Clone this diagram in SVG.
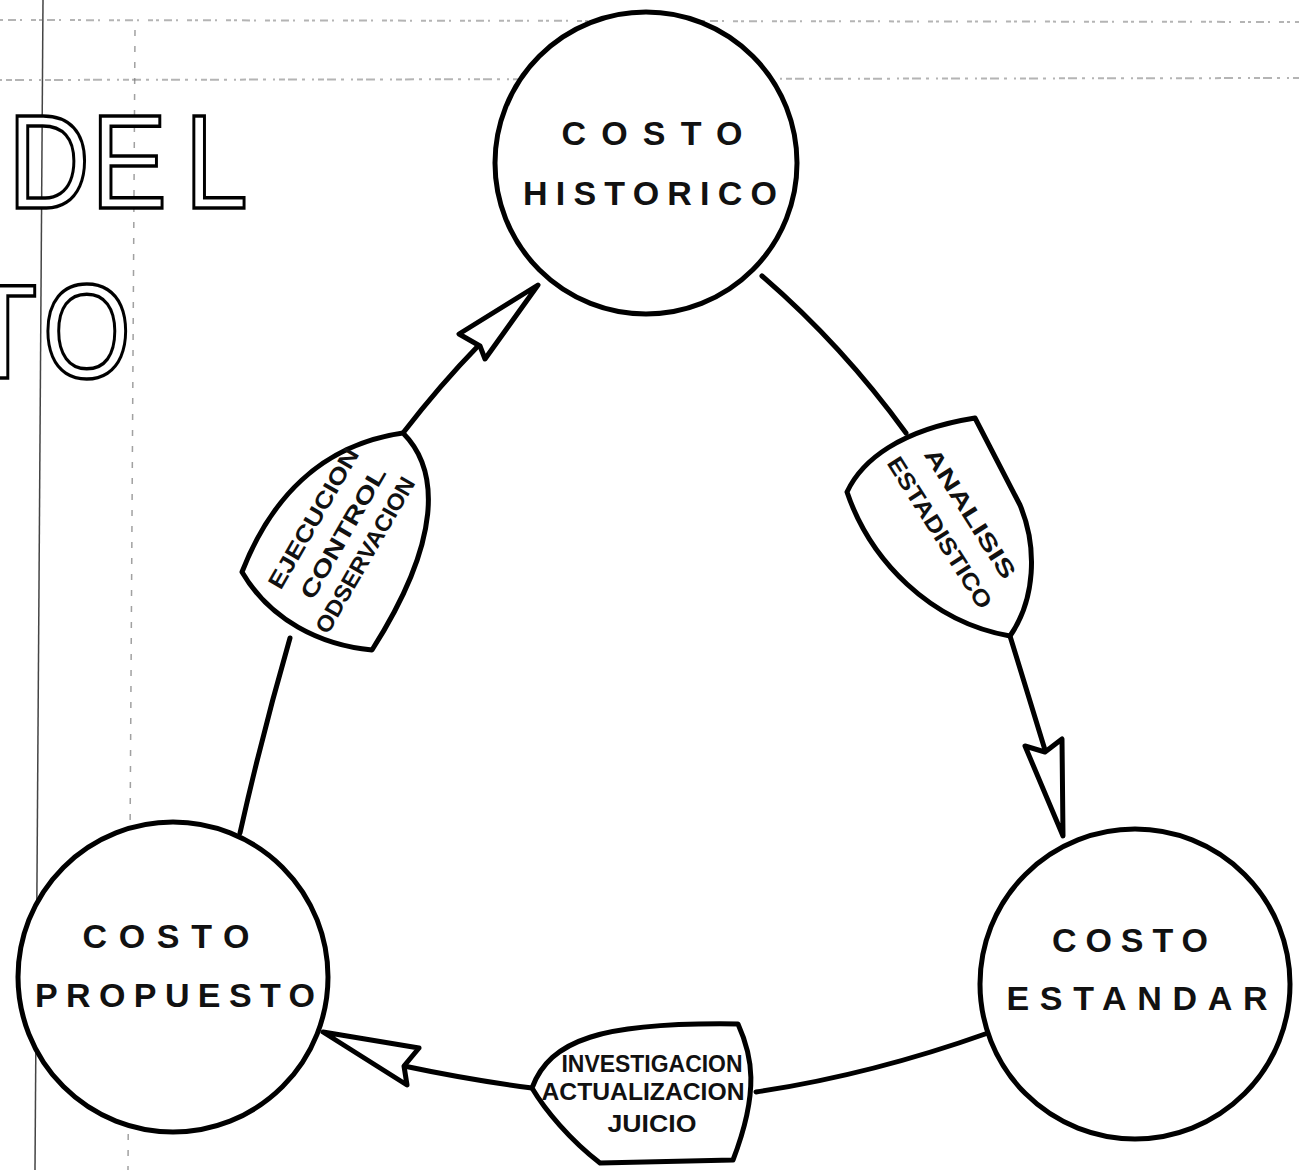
<svg xmlns="http://www.w3.org/2000/svg" width="1299" height="1170" viewBox="0 0 1299 1170">
<style>
.bg{fill:#fff}
.node{fill:#fff;stroke:#000;stroke-width:5}
.shield{fill:#fff;stroke:#000;stroke-width:5;stroke-linejoin:round}
.conn{fill:none;stroke:#000;stroke-width:5;stroke-linecap:round}
.head{fill:#fff;stroke:#000;stroke-width:5;stroke-linejoin:round}
.ct{font-family:"Liberation Sans",Arial,sans-serif;font-weight:bold;font-size:34px;fill:#111;text-anchor:middle}
.st{font-family:"Liberation Sans",Arial,sans-serif;font-weight:bold;font-size:23px;fill:#111;text-anchor:middle}
.big{font-family:"Liberation Sans",Arial,sans-serif;font-size:134px;fill:#fff;stroke:#000;stroke-width:3.5}
.scan{fill:none;stroke:#444;stroke-width:1.5}
.noise{fill:none;stroke:#777;stroke-width:2;opacity:0.55}
</style>
<rect class="bg" x="0" y="0" width="1299" height="1170"/>

<g id="scan-marks">
<path class="scan" d="M43,0 L35,1170"/>
<path class="scan" d="M135,30 L128,1170" stroke-dasharray="6 10" opacity="0.5"/>
<path class="noise" d="M0,20 L1299,22" stroke-dasharray="3 5 8 4 2 9 5 3"/>
<path class="noise" d="M0,80 L1299,78" stroke-dasharray="2 4 6 3 9 5 3 7"/>
</g>

<g id="title">
<text class="big" transform="translate(0,208) scale(0.85,1)"><tspan x="9">D</tspan><tspan x="107">E</tspan><tspan x="217">L</tspan></text>
<text class="big" transform="translate(0,378) scale(0.85,1)"><tspan x="-38">T</tspan><tspan x="50">O</tspan></text>
</g>

<g id="connectors">
<path class="conn" d="M762,276 Q842,345 906,433"/>
<path class="conn" d="M1010,636 L1045,750"/>
<polygon class="head" points="1025,746 1045,752 1062,739 1063,836"/>
<path class="conn" d="M988,1033 Q870,1075 756,1092"/>
<path class="conn" d="M532,1088 Q470,1080 404,1066"/>
<polygon class="head" points="323,1032 419,1048 404,1066 407,1085"/>
<path class="conn" d="M240,833 Q262,735 290,638"/>
<path class="conn" d="M403,433 Q440,385 479,345"/>
<polygon class="head" points="538,285 459,334 480,346 485,359"/>
</g>

<g id="costo-historico">
<circle class="node" cx="646" cy="163" r="151"/>
<text class="ct" x="652" y="145" textLength="181" lengthAdjust="spacing">COSTO</text>
<text class="ct" x="650" y="205" textLength="254" lengthAdjust="spacing">HISTORICO</text>
</g>

<g id="costo-estandar">
<circle class="node" cx="1135" cy="984" r="155"/>
<text class="ct" x="1130" y="952" textLength="156" lengthAdjust="spacing">COSTO</text>
<text class="ct" x="1137" y="1010" textLength="261" lengthAdjust="spacing">ESTANDAR</text>
</g>

<g id="costo-propuesto">
<circle class="node" cx="173" cy="977" r="155"/>
<text class="ct" x="166" y="948" textLength="167" lengthAdjust="spacing">COSTO</text>
<text class="ct" x="175" y="1007" textLength="280" lengthAdjust="spacing">PROPUESTO</text>
</g>

<g id="analisis-estadistico">
<path class="shield" d="M847,492 C862,460 900,430 975,418 L1020,505 C1038,548 1035,600 1010,636 C930,622 870,560 847,492 Z"/>
<g transform="translate(955,523) rotate(57.6)">
<text class="st" x="0" y="-10" textLength="150" lengthAdjust="spacingAndGlyphs">ANALISIS</text>
<text class="st" x="0" y="26" textLength="175" lengthAdjust="spacingAndGlyphs">ESTADISTICO</text>
</g>
</g>

<g id="ejecucion-control">
<path class="shield" d="M242,572 C270,500 320,445 403,433 C440,470 442,540 372,650 C320,645 270,620 242,572 Z"/>
<g transform="translate(343,533) rotate(-60)">
<text class="st" x="-2" y="-25" textLength="158" lengthAdjust="spacingAndGlyphs">EJECUCION</text>
<text class="st" x="0" y="8" textLength="148" lengthAdjust="spacingAndGlyphs">CONTROL</text>
<text class="st" x="-8" y="38" textLength="176" lengthAdjust="spacingAndGlyphs">ODSERVACION</text>
</g>
</g>

<g id="investigacion-juicio">
<path class="shield" d="M532,1088 C550,1040 600,1022 738,1024 C752,1055 760,1090 733,1160 L600,1163 C570,1140 545,1110 532,1088 Z"/>
<text class="st" x="652" y="1072" textLength="181" lengthAdjust="spacingAndGlyphs">INVESTIGACION</text>
<text class="st" x="643" y="1100" textLength="203" lengthAdjust="spacingAndGlyphs">ACTUALIZACION</text>
<text class="st" x="652" y="1132" textLength="89" lengthAdjust="spacingAndGlyphs">JUICIO</text>
</g>
</svg>
